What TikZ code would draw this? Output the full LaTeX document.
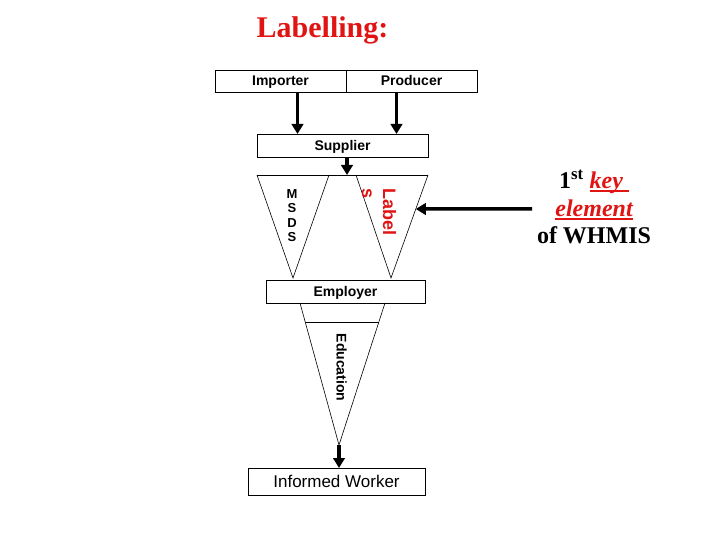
\documentclass[tikz,border=0pt]{standalone}
\usepackage{fontspec}
\setmainfont{Liberation Serif}
\newfontfamily\arialfont{Liberation Sans}
\usetikzlibrary{arrows.meta,calc}
\definecolor{whred}{RGB}{225,20,20}
\newcommand{\thickul}[1]{\setbox0\hbox{#1}\dimen0=\wd0\rlap{\raisebox{-3.5pt}{\rule{\dimen0}{1.6pt}}}\box0}

\tikzset{
  box/.style={draw, line width=0.8pt, inner sep=0pt, outer sep=0pt,
    font=\arialfont\bfseries\fontsize{14}{16}\selectfont,
    text height=10pt, text depth=0pt},
  flow/.style={line width=3.5pt, -{Triangle[width=11.5pt,length=10pt]}},
  funnel/.style={line width=0.6pt},
}

\begin{document}
\begin{tikzpicture}[x=1pt,y=-1pt]
  \useasboundingbox (0,0) rectangle (720,540);

  \node[anchor=base, text=whred, font=\bfseries\fontsize{30}{36}\selectfont] (title) at (322.5,38) {Labelling:};

  % who supplies
  \node[box, minimum width=131pt, minimum height=22pt] (importer) at (280.5,81) {Importer};
  \node[box, minimum width=131pt, minimum height=22pt] (producer) at (411.5,81) {Producer};
  \node[box, minimum width=171pt, minimum height=23pt] (supplier) at (342.5,145.5) {Supplier};
  \draw[flow] ([xshift=17pt]importer.south) -- ([xshift=17pt]importer.south |- supplier.north);
  \draw[flow] ([xshift=-15pt]producer.south) -- ([xshift=-15pt]producer.south |- supplier.north);

  % msds and labels
  \coordinate (ml) at (257,175);
  \coordinate (mr) at (329,175);
  \coordinate (ma) at (293,278);
  \coordinate (ll) at (356,175);
  \coordinate (lr) at (428,175);
  \coordinate (la) at (391,278);
  \draw[funnel] (ml) -- (lr);
  \draw[funnel] (ml) -- (ma) -- (mr);
  \draw[funnel] (ll) -- (la) -- (lr);
  \draw[flow] ([xshift=4.5pt]supplier.south) -- ([xshift=4.5pt]supplier.south |- ml);
  \node[inner sep=0pt, align=center, font=\arialfont\bfseries\fontsize{13}{14.5}\selectfont] (msds) at (292,215.5) {M\\S\\D\\S};
  \node[inner sep=0pt, align=left, rotate=-90, text=whred, font=\arialfont\bfseries\fontsize{18}{21}\selectfont] (labels) at (379,212) {Label\\s};

  % first key element
  \coordinate (keytail) at (532,209);
  \coordinate (keyhit) at ($(lr)!0.33!(la)$);
  \draw[flow] (keytail) -- (keyhit);
  \node[inner sep=0pt, align=center, font=\bfseries\fontsize{24}{27.5}\selectfont] (keytext) at (594,207)
    {1\textsuperscript{st} \textcolor{whred}{\thickul{\itshape key\ }}\\
     \textcolor{whred}{\thickul{\itshape element}}\\
     of WHMIS};

  % employer and education
  \node[box, minimum width=159pt, minimum height=23pt] (employer) at (345.5,291.5) {Employer};
  \coordinate (el) at ([xshift=34pt]employer.south west);
  \coordinate (er) at ([xshift=-40pt]employer.south east);
  \coordinate (ea) at (339,445);
  \draw[funnel] (el) -- (ea) -- (er);
  \draw[funnel] ($(el)!0.134!(ea)$) -- ($(er)!0.134!(ea)$);
  \node[inner sep=0pt, rotate=-90, font=\arialfont\bfseries\fontsize{14}{16}\selectfont] (education) at (341.5,367.5) {Education};

  \node[box, minimum width=177pt, minimum height=27pt, font=\arialfont\fontsize{17}{20}\selectfont, text height=12.2pt] (worker) at (336.5,481.5) {Informed Worker};
  \draw[flow] (ea) -- (ea |- worker.north);
\end{tikzpicture}
\end{document}
